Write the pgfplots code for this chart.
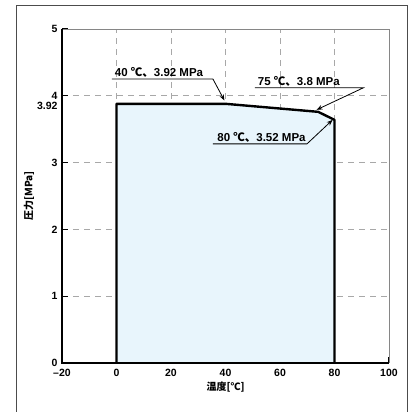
\documentclass[border=0pt]{standalone}
\usepackage{pgfplots}
\pgfplotsset{compat=1.18}
\usetikzlibrary{arrows.meta}
\usepackage{fontspec}
\setmainfont{Liberation Sans}
\newfontfamily\cjk{Noto Sans CJK JP}
\definecolor{fillblue}{HTML}{E8F5FC}
\definecolor{gridgray}{HTML}{A8A8A8}
\pgfplotstableread{
x y
0 0
0 3.88
40 3.88
74 3.76
80 3.64
80 0
}\datatable
\begin{document}
\begin{tikzpicture}[x=1pt,y=1pt]
\clip (0,0) rectangle (410,412);
\draw[draw=black!70, line width=0.8pt] (16,-10) rectangle (407,407);
\begin{axis}[
  at={(62pt,49pt)}, anchor=south west,
  scale only axis, width=327pt, height=334pt,
  xmin=-20, xmax=100, ymin=0, ymax=5,
  xtick={-20,0,20,40,60,80,100},
  xticklabels={–20,0,20,40,60,80,100},
  ytick={0,1,2,3,4,5},
  yticklabels={0,1,2,3,4,5},
  extra y ticks={3.92},
  extra y tick labels={3.92},
  extra y tick style={grid=none, major tick length=0pt,
     yticklabel style={yshift=-5pt}},
  axis line style={draw=none},
  tick align=inside, xtick pos=bottom, ytick pos=left,
  major tick length=6pt,
  tick style={black, line width=1.3pt},
  grid=major,
  major grid style={gridgray, dashed, dash pattern=on 6pt off 5pt, line width=0.8pt},
  every tick label/.append style={font=\bfseries\fontsize{10.5}{12}\selectfont},
  xticklabel style={yshift=-3pt},
  yticklabel style={xshift=-1pt},
  xlabel={\cjk\bfseries 温度[℃]},
  ylabel={\cjk\bfseries 圧力[MPa]},
  xlabel style={font=\fontsize{10}{12}\selectfont, yshift=2pt},
  ylabel style={font=\fontsize{10}{12}\selectfont, yshift=-4pt},
  clip=false,
]
\addplot[draw=black, line width=2.4pt, fill=fillblue, line join=round] table[x=x,y=y] {\datatable};
\draw[gridgray!80!black, line width=0.6pt] (rel axis cs:0,1) -- (rel axis cs:1,1) -- (rel axis cs:1,0);
\draw[black, line width=2pt] (rel axis cs:0,1) -- (rel axis cs:0,0) -- (rel axis cs:1,0);
\tikzset{ann/.style={font=\bfseries\fontsize{11.5}{13}\selectfont, anchor=south west, inner sep=1.5pt}}
% label 1
\draw[black, line width=0.8pt, -{Stealth[length=6pt,width=4.5pt]}] (axis cs:-1.7,4.25) -- (axis cs:35.4,4.25) -- (axis cs:39.6,3.93);
\node[ann] at (axis cs:-1.2,4.25) {40 {\cjk ℃、}3.92 MPa};
% label 2
\draw[black, line width=0.8pt, -{Stealth[length=6pt,width=4.5pt]}] (axis cs:50.8,4.12) -- (axis cs:90.6,4.12) -- (axis cs:73.4,3.79);
\node[ann] at (axis cs:51.3,4.12) {75 {\cjk ℃、}3.8 MPa};
% label 3
\draw[black, line width=0.8pt, -{Stealth[length=6pt,width=4.5pt]}] (axis cs:35.4,3.28) -- (axis cs:69.9,3.28) -- (axis cs:79.3,3.64);
\node[ann] at (axis cs:36.4,3.28) {80 {\cjk ℃、}3.52 MPa};
\end{axis}
\end{tikzpicture}
\end{document}
